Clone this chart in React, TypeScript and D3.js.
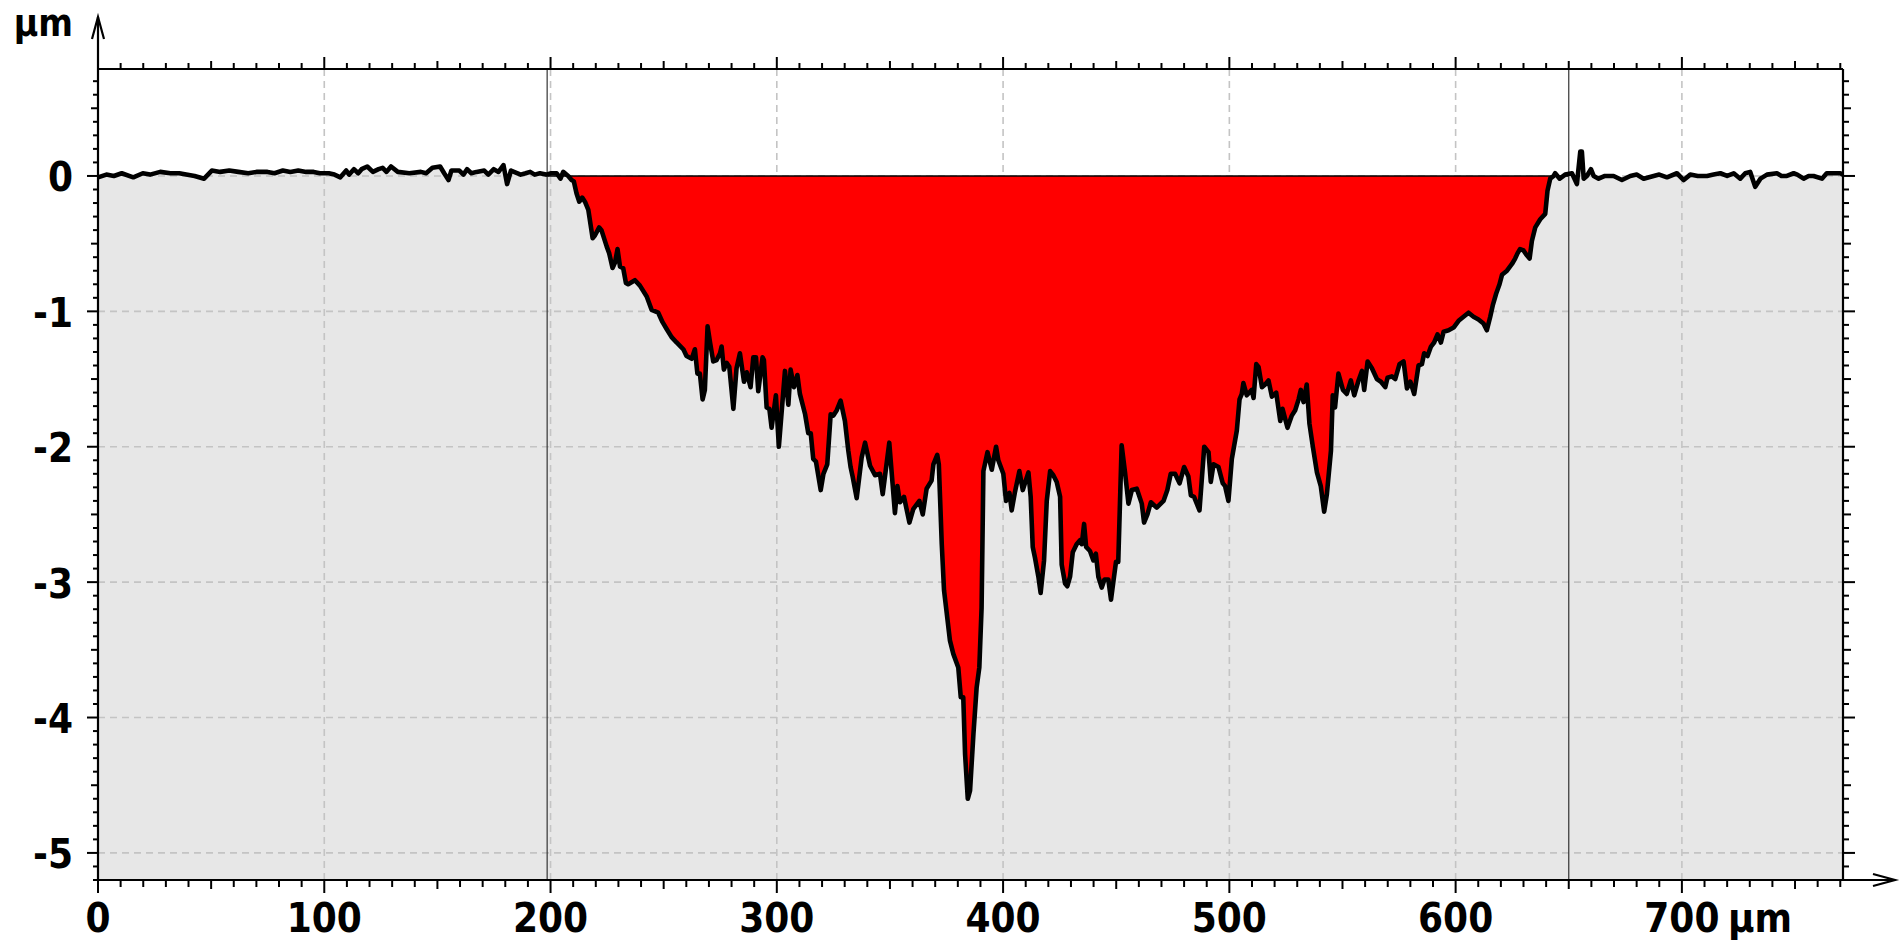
import { useMemo } from 'react'
import * as d3 from 'd3'

// profile across the scan, [position µm, height µm]
const flatLeft: [number, number][] = [
  [0, -0.01], [3.7, 0.01], [7, 0.0], [10.5, 0.02], [15.6, -0.01], [19.8, 0.02], [23, 0.01], [27.5, 0.03], [32, 0.02], [35.9, 0.02],
  [42.7, 0.0], [46.9, -0.02], [50.3, 0.04], [54, 0.03], [58, 0.04], [62, 0.03], [66.4, 0.02], [70, 0.03], [74.9, 0.03], [78, 0.02],
  [81.7, 0.04], [85, 0.03], [88.5, 0.04], [92, 0.03], [95.3, 0.03], [98, 0.02], [102, 0.02], [104.5, 0.01], [107.1, -0.01], [109.7, 0.04],
  [111, 0.01], [113.1, 0.05], [115, 0.02], [116.5, 0.05], [119, 0.07], [121.5, 0.03], [124, 0.05], [125.8, 0.06], [127.5, 0.03], [129.5, 0.07],
  [132.5, 0.03], [137.6, 0.02], [142.7, 0.03], [145, 0.02], [147.8, 0.06], [151.2, 0.07], [153, 0.02], [154.9, -0.03], [156.2, 0.04], [159.7, 0.04],
  [161.5, 0.01], [163.1, 0.05], [165, 0.02], [167.3, 0.03], [170.7, 0.04], [172.5, 0.01], [174.9, 0.05], [177, 0.03], [179.2, 0.08], [180.8, -0.06],
  [182.5, 0.04], [186.8, 0.01], [189, 0.02], [191, 0.03], [193, 0.01], [195.3, 0.02], [198, 0.01], [200.3, 0.02], [202.7, 0.02],
]

const crater: [number, number][] = [
  [204.4, -0.02], [205.6, 0.03], [207.8, 0.0], [209.3, -0.03], [210.3, -0.04], [211.5, -0.13], [212.7, -0.19], [214, -0.16], [215.2, -0.19], [216.7, -0.25],
  [218.6, -0.46], [219.6, -0.44], [221.5, -0.38], [222.5, -0.4], [224.8, -0.52], [225.9, -0.57], [227.4, -0.68], [228.5, -0.64], [229.6, -0.54], [230.7, -0.67],
  [232.1, -0.68], [233.3, -0.79], [234.3, -0.8], [237.3, -0.77], [239.5, -0.81], [242.5, -0.89], [244.7, -0.99], [247.6, -1.01], [249.5, -1.08], [251.3, -1.13],
  [253.5, -1.19], [255.7, -1.23], [258.7, -1.28], [260.1, -1.33], [262.4, -1.35], [263.8, -1.28], [264.9, -1.46], [266, -1.46], [267.2, -1.65], [268.2, -1.58],
  [269.4, -1.11], [270.5, -1.23], [271.9, -1.37], [273.4, -1.36], [274.9, -1.31], [275.6, -1.26], [276.6, -1.43], [277.8, -1.38], [279, -1.41], [280.8, -1.72],
  [282.2, -1.42], [283.7, -1.31], [285.5, -1.52], [286.7, -1.45], [288.4, -1.56], [289.6, -1.34], [290.8, -1.34], [291.8, -1.59], [293.7, -1.34], [294.3, -1.36],
  [295.5, -1.71], [296.7, -1.72], [297.7, -1.86], [299.6, -1.62], [300.9, -2.0], [303.6, -1.44], [305.1, -1.69], [306.1, -1.43], [307.6, -1.56], [309.1, -1.47],
  [310.2, -1.61], [312.5, -1.76], [313.9, -1.9], [315, -1.9], [316.1, -2.09], [317.3, -2.11], [319.4, -2.32], [320.6, -2.2], [322.3, -2.13], [323.8, -1.76],
  [325, -1.77], [326.5, -1.73], [328.2, -1.66], [330.1, -1.81], [331.6, -2.03], [332.6, -2.15], [333.5, -2.22], [335.3, -2.38], [337.5, -2.08], [339, -1.97],
  [341.2, -2.14], [343.4, -2.21], [345.6, -2.2], [346.8, -2.35], [349.7, -1.97], [352.2, -2.49], [353.3, -2.29], [354.4, -2.41], [356.2, -2.37], [358.6, -2.56],
  [360.3, -2.46], [363, -2.4], [364.5, -2.5], [366.2, -2.31], [368.4, -2.25], [369.2, -2.13], [370.9, -2.06], [371.6, -2.13], [372.9, -2.72], [373.9, -3.06],
  [375.1, -3.23], [376.5, -3.43], [378, -3.53], [380.2, -3.63], [381.3, -3.85], [382.4, -3.85], [383.2, -4.27], [384.4, -4.6], [385.4, -4.54], [386.9, -4.12],
  [388.3, -3.78], [389.5, -3.63], [390.5, -3.19], [391.3, -2.18], [393.1, -2.04], [395, -2.17], [396.9, -2.0], [397.9, -2.1], [400.1, -2.2], [401.3, -2.4],
  [402.8, -2.34], [403.8, -2.47], [405.3, -2.33], [407.2, -2.18], [408.7, -2.32], [411.2, -2.19], [412.2, -2.37], [413.1, -2.74], [414.1, -2.82], [415.6, -2.96],
  [416.6, -3.08], [418.1, -2.84], [419.3, -2.4], [420.8, -2.18], [422.2, -2.21], [423.7, -2.26], [425.2, -2.37], [425.9, -2.87], [427.4, -3.01], [428.4, -3.03],
  [429.6, -2.96], [430.8, -2.78], [432.5, -2.72], [434, -2.69], [434.8, -2.72], [435.8, -2.57], [436.7, -2.74], [438.4, -2.77], [439.9, -2.84], [441, -2.79],
  [442.1, -2.96], [443.6, -3.04], [444.8, -2.98], [446.5, -2.98], [447.7, -3.13], [448.8, -2.99], [449.9, -2.85], [450.9, -2.85], [452.4, -1.99], [453.9, -2.19],
  [455.4, -2.42], [456.9, -2.32], [459.1, -2.31], [461.3, -2.42], [462.3, -2.56], [463.8, -2.5], [465.3, -2.41], [467.9, -2.45], [470.9, -2.4], [472.6, -2.32],
  [474.1, -2.2], [476, -2.2], [478, -2.27], [480, -2.15], [481.9, -2.22], [483, -2.36], [484.4, -2.37], [486.8, -2.47], [488.9, -2.0], [490.8, -2.04],
  [491.8, -2.26], [493, -2.13], [495.2, -2.15], [497.1, -2.27], [498.1, -2.29], [499.6, -2.4], [501.1, -2.09], [503.3, -1.88], [504.5, -1.65], [505.5, -1.61],
  [506.2, -1.53], [507.7, -1.62], [509.9, -1.58], [510.7, -1.64], [511.9, -1.39], [512.9, -1.41], [514.4, -1.56], [515.8, -1.54], [517.3, -1.51], [518.8, -1.63],
  [520.7, -1.6], [522.5, -1.81], [523.5, -1.72], [525.7, -1.86], [527.6, -1.77], [529.1, -1.73], [530.6, -1.65], [531.6, -1.58], [532.8, -1.67], [534.2, -1.54],
  [535.4, -1.83], [536.9, -2.0], [538.7, -2.19], [540.4, -2.29], [541.9, -2.48], [543.1, -2.35], [544.9, -2.03], [545.7, -1.62], [546.7, -1.71], [548.2, -1.46],
  [550.2, -1.58], [551.9, -1.61], [553.7, -1.51], [555.2, -1.62], [557.1, -1.51], [558.6, -1.44], [559.6, -1.58], [561.1, -1.37], [563, -1.42], [565.2, -1.5],
  [567, -1.52], [568.9, -1.56], [569.9, -1.49], [571.8, -1.48], [573.3, -1.5], [575.2, -1.39], [577, -1.37], [578.5, -1.57], [580, -1.52], [581.7, -1.61],
  [583.6, -1.4], [585.1, -1.39], [586.1, -1.31], [587.6, -1.33], [589.1, -1.26], [590.5, -1.23], [592, -1.17], [593.5, -1.23], [594.7, -1.15], [596.9, -1.14],
  [599.1, -1.12], [601.3, -1.07], [603.5, -1.04], [605.7, -1.01], [607.9, -1.04], [610.1, -1.06], [612.3, -1.09], [613.8, -1.14], [615.3, -1.04], [616.5, -0.95],
  [617.9, -0.87], [619.4, -0.8], [620.5, -0.73], [622.7, -0.7], [624.9, -0.65], [626.3, -0.61], [627.4, -0.57], [628.5, -0.54], [630, -0.55], [631.2, -0.58],
  [632.7, -0.61], [633.7, -0.48], [635.2, -0.38], [637.4, -0.32], [639.6, -0.28], [640.6, -0.11], [641.8, -0.02],
]

const flatRight: [number, number][] = [
  [643.3, 0.0], [644, 0.02], [646, -0.02], [648.4, 0.01], [651.4, 0.02], [653.6, -0.06], [655.1, 0.18], [655.8, 0.18], [656.6, -0.02], [658, 0.0],
  [659.8, 0.05], [661, 0.0], [663.2, -0.02], [666, 0.0], [669.8, 0.0], [673.5, -0.03], [677.2, 0.0], [680, 0.01], [683.1, -0.02], [687.5, 0.0],
  [690, 0.01], [693.4, -0.01], [697.8, 0.02], [700.8, -0.03], [703.7, 0.01], [707, 0.0], [711.1, 0.0], [714, 0.01], [717, 0.02], [720, 0.0],
  [722.9, 0.02], [725.8, -0.02], [728, 0.02], [730.2, 0.03], [732.4, -0.08], [734.7, -0.02], [737.6, 0.01], [742, 0.02], [744, 0.0], [746.4, 0.0],
  [749.4, 0.02], [751, 0.01], [753.8, -0.02], [756, 0.0], [758.2, 0.0], [761.9, -0.02], [764, 0.02], [767.1, 0.02], [770, 0.02], [771.2, 0.01],
]

const xTickLabels = [0, 100, 200, 300, 400, 500, 600, 700]
const yTickLabels = [0, -1, -2, -3, -4, -5]
const markers = [198.5, 650]
const unit = 'µm'

const W = 1901
const H = 940
const M = { left: 98, top: 69, right: 58, bottom: 60 }
const FONT = "'DejaVu Sans Condensed', 'DejaVu Sans', sans-serif"

export default function App() {
  const profile = useMemo(() => [...flatLeft, ...crater, ...flatRight], [])

  const x = d3.scaleLinear().domain([0, 771.2]).range([M.left, W - M.right])
  const y = d3.scaleLinear().domain([-5.2, 0.79]).range([H - M.bottom, M.top])
  const x0 = M.left
  const x1 = W - M.right
  const yTop = M.top
  const yBot = H - M.bottom

  const line = d3.line<[number, number]>().x((d) => x(d[0])).y((d) => y(d[1]))
  const below = d3.area<[number, number]>().x((d) => x(d[0])).y0(yBot).y1((d) => y(d[1]))
  const pit = d3.area<[number, number]>().x((d) => x(d[0])).y0(y(0)).y1((d) => y(Math.min(0, d[1])))

  // tick positions: x every 10 µm, y every 0.1 µm
  const xMinor = d3.range(0, 78).map((i) => ({ v: i * 10, kind: i % 10 === 0 ? 2 : i % 5 === 0 ? 1 : 0 }))
  const yMinor = d3.range(-52, 8).map((i) => ({ v: i / 10, kind: i % 10 === 0 ? 2 : i % 5 === 0 ? 1 : 0 }))
  const tlen = [6, 8, 12]

  return (
    <svg width={W} height={H} style={{ position: 'absolute', left: 0, top: 0, background: '#fff' }}>
      <defs>
        <clipPath id="plot">
          <rect x={x0} y={yTop} width={x1 - x0} height={yBot - yTop} />
        </clipPath>
        <clipPath id="pitzone">
          <rect x={x(markers[0])} y={yTop} width={x(markers[1]) - x(markers[0])} height={yBot - yTop} />
        </clipPath>
      </defs>

      <g clipPath="url(#plot)">
        <path d={below(profile) ?? ''} fill="#e7e7e7" />
        {xTickLabels.map((t) => (
          <line key={'gx' + t} x1={x(t)} x2={x(t)} y1={yTop} y2={yBot} stroke="#c4c4c4" strokeWidth={1.6} strokeDasharray="7,5" />
        ))}
        {yTickLabels.map((t) => (
          <line key={'gy' + t} x1={x0} x2={x1} y1={y(t)} y2={y(t)} stroke="#c4c4c4" strokeWidth={1.6} strokeDasharray="7,5" />
        ))}
        <g clipPath="url(#pitzone)">
          <path d={pit(profile) ?? ''} fill="#ff0000" />
          <line x1={x(markers[0])} x2={x(markers[1])} y1={y(0)} y2={y(0)} stroke="#000" strokeWidth={1.5} />
        </g>
        {markers.map((m) => (
          <line key={'m' + m} x1={x(m)} x2={x(m)} y1={yTop} y2={yBot} stroke="#333" strokeWidth={1.2} />
        ))}
        <path d={line(profile) ?? ''} fill="none" stroke="#000" strokeWidth={4.6} strokeLinejoin="round" strokeLinecap="round" />
      </g>

      {/* frame */}
      <g stroke="#000" strokeWidth={2.2} fill="none">
        <line x1={x0} x2={x1} y1={yTop} y2={yTop} />
        <line x1={x1} x2={x1} y1={yTop} y2={yBot} />
        <line x1={x0} x2={1895} y1={yBot} y2={yBot} />
        <line x1={x0} x2={x0} y1={yBot} y2={17} />
        <polyline points={`${x0 - 6},${39} ${x0},${17} ${x0 + 6},${39}`} />
        <polyline points={`${1873},${yBot - 6} ${1895},${yBot} ${1873},${yBot + 6}`} />
      </g>

      {/* ticks */}
      <g stroke="#000" strokeWidth={2}>
        {xMinor.map((t) => (
          <g key={'tx' + t.v}>
            <line x1={x(t.v)} x2={x(t.v)} y1={yBot} y2={yBot + tlen[t.kind] + 1} />
            <line x1={x(t.v)} x2={x(t.v)} y1={yTop} y2={yTop - tlen[t.kind]} />
          </g>
        ))}
        {yMinor.map((t) => (
          <g key={'ty' + t.v}>
            <line x1={x0} x2={x0 - tlen[t.kind] + 1} y1={y(t.v)} y2={y(t.v)} />
            <line x1={x1} x2={x1 + tlen[t.kind]} y1={y(t.v)} y2={y(t.v)} />
          </g>
        ))}
      </g>

      {/* labels */}
      <g fontFamily={FONT} fontWeight="bold" fontSize={40} fill="#000">
        {xTickLabels.map((t) => (
          <text key={'lx' + t} x={x(t)} y={931.5} textAnchor="middle">{t}</text>
        ))}
        <text x={x(700) + 46} y={931.5} textAnchor="start">{unit}</text>
        {yTickLabels.map((t) => (
          <text key={'ly' + t} x={73} y={y(t) + 15.5} textAnchor="end">{t}</text>
        ))}
        <text x={73} y={36} textAnchor="end" fontSize={37}>{unit}</text>
      </g>
    </svg>
  )
}
